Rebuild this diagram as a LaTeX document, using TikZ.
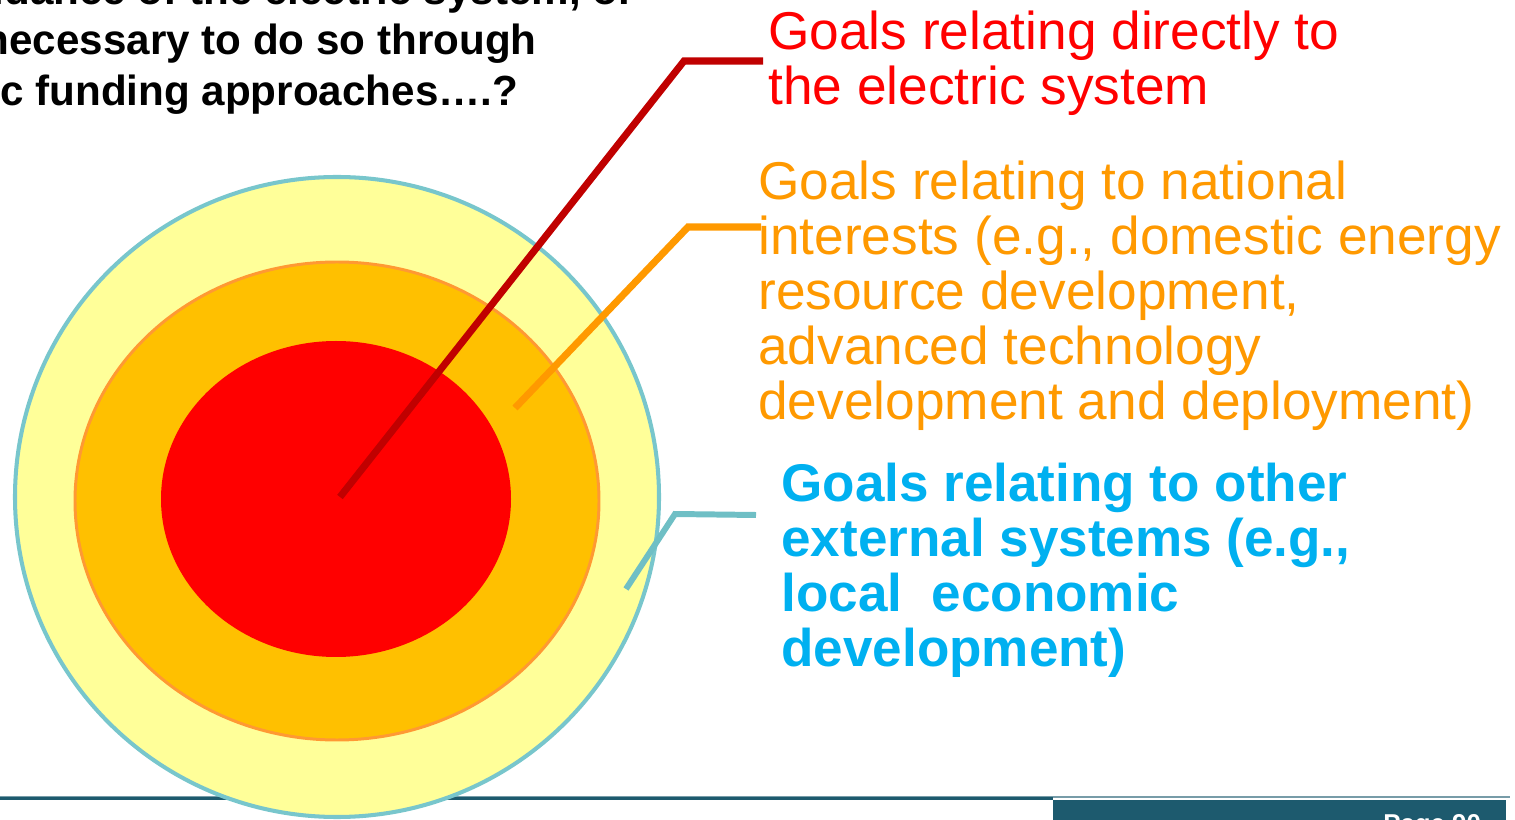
\documentclass[tikz,border=0pt]{standalone}
\usepackage{fontspec}
\setmainfont{Liberation Sans}

\definecolor{ringblue}{HTML}{78C6CC}
\definecolor{ringyellow}{HTML}{FFFF99}
\definecolor{midfill}{HTML}{FFC000}
\definecolor{midedge}{HTML}{FF9933}
\definecolor{corered}{HTML}{FF0000}
\definecolor{leadred}{HTML}{C00000}
\definecolor{leadorange}{HTML}{FF9900}
\definecolor{leadteal}{HTML}{6FBFC5}
\definecolor{textblue}{HTML}{00B0F0}
\definecolor{barteal}{HTML}{1D5A6E}

\tikzset{
  goal/.style={anchor=north west, inner sep=0pt, align=left,
    font=\fontsize{30.3}{31.2}\selectfont},
  leader/.style={line width=4pt},
  question/.style={anchor=base east, inner sep=0pt,
    font=\bfseries\fontsize{24}{28}\selectfont},
}

\begin{document}
\begin{tikzpicture}[x=0.02cm, y=-0.02cm]
  \useasboundingbox (0,0) rectangle (1515,820);
  \clip (0,0) rectangle (1515,820);

  % Footer bar
  \draw[barteal!60, line width=0.6pt] (0,797) -- (1510,797);
  \draw[barteal, line width=1.7pt] (0,798.5) -- (1053,798.5);
  \fill[barteal] (1053,800) rectangle (1506,830);
  \node[anchor=base west, inner sep=0pt, text=white,
    font=\bfseries\fontsize{14.7}{16}\selectfont] (page) at (1383,832) {Page 90};

  % Question (cut off at the top left)
  \node[question] (q1) at (635,5) {guidance of the electric system, or};
  \node[question] (q2) at (537,55) {necessary to do so through};
  \node[question, anchor=base west] (q3) at (0,106) {c funding approaches….?};

  % Rings
  \filldraw[fill=ringyellow, draw=ringblue, line width=2.3pt] (337,497) ellipse (322 and 320);
  \filldraw[fill=midfill, draw=midedge, line width=1.7pt] (337,501) ellipse (262 and 239);
  \fill[corered] (336,499) ellipse (175 and 158);

  % Leader lines
  \coordinate (redfoot) at (340,497);
  \coordinate (redknee) at (684,61);
  \coordinate (redend) at (763,61);
  \coordinate (orangefoot) at (515,408);
  \coordinate (orangeknee) at (688,227);
  \coordinate (orangeend) at (761,227);
  \coordinate (tealfoot) at (626,589);
  \coordinate (tealknee) at (675,514);
  \coordinate (tealend) at (756,515);

  \draw[leader, leadred] (redfoot) -- (redknee) -- (redend);
  \draw[leader, leadorange] (orangefoot) -- (orangeknee) -- (orangeend);
  \draw[leader, leadteal, line width=3.4pt] (tealfoot) -- (tealknee) -- (tealend);

  % Goal labels
  \node[goal, text=corered] (direct) at (768,11)
    {Goals relating directly to\\the electric system};
  \node[goal, text=leadorange] (national) at (758,161)
    {Goals relating to national\\interests (e.g., domestic energy\\resource development,\\advanced technology\\development and deployment)};
  \node[goal, text=textblue, font=\bfseries\fontsize{30.2}{31.2}\selectfont] (external) at (781,463)
    {Goals relating to other\\external systems (e.g.,\\local\ \ economic\\development)};
\end{tikzpicture}
\end{document}
